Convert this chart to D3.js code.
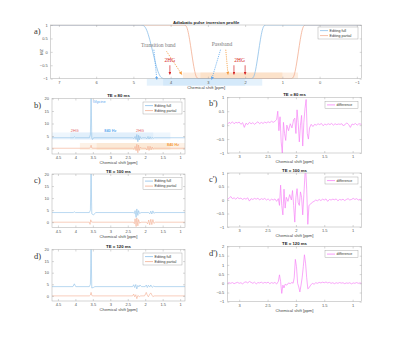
<!DOCTYPE html>
<html>
<head>
<meta charset="utf-8">
<script src="https://cdn.jsdelivr.net/npm/d3@7"></script>
<style>
  body { margin: 0; background: #fff; }
  svg { display: block; font-family: Arial, "Liberation Sans", sans-serif; }
</style>
</head>
<body>
<svg id="fig" width="400" height="339"></svg>
<script>
// ---- data ----
const profileTicksX = [7, 6, 5, 4, 3, 2, 1, 0, -1];
const profileTicksY = [-1, -0.5, 0, 0.5, 1];
const specTicksX = [4.5, 4, 3.5, 3, 2.5, 2, 1.5, 1];
const specTicksY = [0, 5, 10, 15, 20];
const diffTicksX = [3, 2.5, 2, 1.5, 1];
const diffTicksY = [-1, -0.5, 0, 0.5, 1];
const diffTicksY120 = [-1, -0.5, 0, 0.5, 1, 1.5, 2];
const seriesNames = ['Editing full', 'Editing partial'];

// Mz inversion profile [ppm, Mz]
const profileFull = [[7.22,1],[4.8,1],[4.72,0.97],[4.64,0.8],[4.56,0.45],[4.48,0],[4.4,-0.45],[4.32,-0.8],[4.24,-0.97],[4.16,-1],
  [1.84,-1],[1.79,-0.97],[1.74,-0.8],[1.69,-0.45],[1.64,0],[1.59,0.45],[1.54,0.8],[1.49,0.97],[1.43,1],[-1.13,1]];
const profilePartial = [[7.22,1],[3.64,1],[3.59,0.97],[3.54,0.8],[3.49,0.45],[3.44,0],[3.39,-0.45],[3.34,-0.8],[3.29,-0.97],[3.23,-1],
  [0.77,-1],[0.72,-0.97],[0.67,-0.8],[0.62,-0.45],[0.57,0],[0.52,0.45],[0.47,0.8],[0.42,0.97],[0.37,1],[-1.13,1]];

// spectra [ppm, signal]
const full80 = [[4.67,4.3],[4.06,4.3],[4.03,4.7],[4.0,4.3],[3.6,4.3],[3.57,5.5],[3.55,21],[3.53,4.2],[3.51,3.6],[3.48,4.3],
  [2.36,4.3],[2.32,4.0],[2.29,4.8],[2.26,3.6],[2.24,5.6],[2.21,2.7],[2.19,5.3],[2.17,3.4],[2.15,4.8],[2.12,4.0],[2.09,4.3],
  [1.98,4.3],[1.95,3.9],[1.92,4.8],[1.89,3.8],[1.86,4.7],[1.83,4.0],[1.8,4.5],[1.77,4.1],[1.74,4.3],[0.86,4.3]];
const part80 = [[4.67,0.1],[3.6,0.1],[3.57,0.4],[3.55,1.3],[3.53,0.2],[3.5,0.1],
  [2.36,0.1],[2.32,-0.3],[2.29,0.8],[2.26,-0.9],[2.24,1.7],[2.21,-1.7],[2.19,1.4],[2.17,-0.8],[2.14,0.6],[2.11,0.1],
  [1.98,0.1],[1.95,-0.6],[1.92,0.9],[1.89,-0.8],[1.86,0.9],[1.83,-0.5],[1.8,0.6],[1.77,-0.2],[1.74,0.1],[0.86,0.1]];
const full100 = [[4.67,4.0],[4.06,4.0],[4.03,4.3],[4.0,4.0],[3.6,4.0],[3.57,5.0],[3.55,21],[3.53,3.5],[3.48,3.0],[3.42,4.0],
  [2.34,4.0],[2.31,3.6],[2.29,4.8],[2.26,2.0],[2.24,5.5],[2.21,2.8],[2.19,4.8],[2.16,3.6],[2.12,4.0],
  [1.9,4.0],[1.87,3.5],[1.84,4.6],[1.81,3.4],[1.78,4.7],[1.75,3.7],[1.72,4.0],[0.86,4.0]];
const part100 = [[4.67,0],[3.6,0],[3.58,-0.9],[3.56,1.0],[3.54,0.1],[3.5,0],
  [2.34,0],[2.31,-0.6],[2.29,1.4],[2.26,-1.8],[2.24,1.8],[2.21,-1.5],[2.19,1.1],[2.16,-0.4],[2.12,0],
  [1.96,0],[1.93,-0.7],[1.9,0.9],[1.87,-1.1],[1.84,1.2],[1.81,-1.0],[1.78,1.1],[1.75,-0.5],[1.71,0],[0.86,0]];
const full120 = [[4.67,4.0],[4.07,4.0],[4.03,5.2],[3.99,4.0],[3.6,4.0],[3.57,5.0],[3.55,20.5],[3.53,3.4],[3.49,3.6],[3.44,4.0],
  [2.36,4.0],[2.33,4.8],[2.3,3.6],[2.27,4.9],[2.24,3.0],[2.21,4.5],[2.18,3.9],[2.15,4.7],[2.11,4.0],
  [2.0,4.0],[1.97,4.7],[1.94,3.6],[1.91,4.6],[1.87,3.8],[1.84,4.7],[1.8,3.7],[1.76,4.2],[1.72,4.0],[0.86,4.0]];
const part120 = [[4.67,0],[3.6,0],[3.57,0.4],[3.55,1.5],[3.53,0.2],[3.5,0],
  [2.36,0],[2.33,0.8],[2.3,-0.4],[2.27,0.5],[2.24,-1.2],[2.21,0.2],[2.17,-0.3],[2.13,0],
  [2.02,0],[1.99,0.8],[1.97,1.5],[1.94,0.3],[1.91,-0.4],[1.88,0.5],[1.84,1.3],[1.81,0.4],[1.78,-0.3],[1.74,0],[0.86,0]];

// difference spectra [ppm, full - partial]
const diff80 = [[3.21,0.02],[3.18,0.1],[3.15,0.06],[3.12,0.12],[3.09,0.05],[3.06,0.1],[3.03,0.08],[3.0,0.11],[2.97,0.03],[2.94,0.09],
  [2.91,-0.08],[2.88,0.07],[2.85,0.02],[2.82,0.1],[2.79,0.05],[2.76,0.09],[2.73,0.03],[2.7,0.08],[2.67,0.12],[2.64,0.05],
  [2.61,0.1],[2.58,0.06],[2.55,0.11],[2.52,0.08],[2.49,0.12],[2.46,0.09],[2.43,0.14],[2.4,0.1],[2.37,0.14],[2.34,0.2],
  [2.32,0.5],[2.3,-0.2],[2.28,0.3],[2.26,-0.6],[2.24,-1.0],[2.22,0.1],[2.2,-0.3],[2.18,-0.55],[2.16,0.0],[2.13,-0.2],
  [2.1,0.05],[2.07,-0.1],[2.04,0.2],[2.02,0.25],[2.0,-0.3],[1.98,0.55],[1.96,0.1],[1.94,-0.6],[1.92,0.0],[1.9,0.35],
  [1.88,-0.75],[1.86,0.1],[1.84,0.6],[1.82,0.92],[1.8,-0.3],[1.78,-0.5],[1.76,-0.1],[1.73,0.03],[1.7,-0.05],[1.67,0.03],
  [1.64,0.0],[1.61,0.05],[1.58,0.02],[1.55,0.06],[1.52,-0.02],[1.49,0.04],[1.46,0.01],[1.43,0.05],[1.4,0.02],[1.37,0.06],
  [1.34,0.0],[1.31,0.05],[1.28,0.02],[1.25,0.04],[1.22,0.03],[1.19,0.05],[1.16,-0.03],[1.13,0.04],[1.1,0.08],[1.07,0.02],
  [1.04,-0.08],[1.01,0.04],[0.98,0.02],[0.95,0.06],[0.92,0.0],[0.89,0.05],[0.84,0.03]];
const diff100 = [[3.21,0.02],[3.18,0.06],[3.15,0.13],[3.12,0.05],[3.09,0.08],[3.06,0.03],[3.03,0.09],[3.0,0.05],[2.97,0.07],[2.94,0.02],
  [2.91,0.06],[2.88,0.03],[2.85,0.08],[2.82,-0.04],[2.79,0.05],[2.76,0.02],[2.73,0.06],[2.7,0.03],[2.67,0.07],[2.64,0.0],
  [2.61,0.05],[2.58,0.02],[2.55,0.06],[2.52,0.0],[2.49,0.04],[2.46,-0.02],[2.43,0.03],[2.4,0.0],[2.37,0.04],[2.34,-0.05],
  [2.31,0.05],[2.29,-0.2],[2.27,0.55],[2.25,-0.2],[2.23,-0.55],[2.21,0.4],[2.19,-0.3],[2.17,0.1],[2.14,-0.05],[2.11,0.2],
  [2.08,0.0],[2.06,0.35],[2.04,-0.2],[2.02,-0.82],[2.0,0.1],[1.98,0.42],[1.96,-0.1],[1.94,-0.2],[1.92,0.3],[1.9,0.1],
  [1.88,-0.55],[1.86,0.2],[1.83,1.3],[1.81,0.4],[1.79,-0.9],[1.77,-0.2],[1.74,-0.15],[1.71,-0.08],[1.68,-0.05],[1.65,0.0],
  [1.62,-0.03],[1.59,0.02],[1.56,-0.02],[1.53,0.03],[1.5,0.0],[1.47,0.04],[1.44,-0.05],[1.41,0.02],[1.38,0.0],[1.35,0.03],
  [1.32,0.01],[1.29,0.04],[1.26,-0.03],[1.23,0.02],[1.2,0.0],[1.17,0.03],[1.14,-0.02],[1.11,0.02],[1.08,0.05],[1.05,0.0],
  [1.02,0.02],[0.99,0.06],[0.96,0.02],[0.93,0.05],[0.9,0.0],[0.87,0.03],[0.84,0.01]];
const diff120 = [[3.21,0.0],[3.18,0.03],[3.15,0.0],[3.12,0.04],[3.09,-0.02],[3.06,0.02],[3.03,0.05],[3.0,0.0],[2.97,0.03],[2.94,-0.03],
  [2.91,0.05],[2.88,0.08],[2.85,0.02],[2.82,0.1],[2.79,0.05],[2.76,0.0],[2.73,0.06],[2.7,-0.03],[2.67,0.04],[2.64,0.02],
  [2.61,0.06],[2.58,0.0],[2.55,0.05],[2.52,0.02],[2.49,0.06],[2.46,-0.02],[2.43,0.04],[2.4,0.0],[2.37,0.05],[2.34,-0.04],
  [2.31,0.1],[2.29,0.46],[2.27,0.1],[2.25,-0.55],[2.23,-0.1],[2.21,-0.25],[2.19,-0.05],[2.16,-0.1],[2.13,0.02],[2.1,-0.02],
  [2.07,0.05],[2.05,0.0],[2.03,0.3],[2.01,1.3],[1.99,0.9],[1.97,0.0],[1.95,-0.2],[1.93,-0.47],[1.91,-0.1],[1.89,0.3],
  [1.87,0.9],[1.85,1.55],[1.83,1.1],[1.81,0.3],[1.79,-0.3],[1.77,-0.25],[1.74,-0.1],[1.71,0.0],[1.68,-0.05],[1.65,0.03],
  [1.62,0.0],[1.59,0.05],[1.56,0.02],[1.53,0.06],[1.5,0.03],[1.47,0.07],[1.44,0.02],[1.41,0.05],[1.38,0.0],[1.35,0.03],
  [1.32,-0.02],[1.29,0.03],[1.26,0.0],[1.23,0.04],[1.2,0.01],[1.17,0.03],[1.14,-0.02],[1.11,0.02],[1.08,0.0],[1.05,0.03],
  [1.02,-0.03],[0.99,0.02],[0.96,0.0],[0.93,0.04],[0.9,0.0],[0.87,0.02],[0.84,0.0]];

// shaded bands [ppm from, ppm to, value low, value high]
const bandsProfileFull = [[4.64,1.54,-1.26,-1.0],[4.2,2.0,-1.26,-1.0]];
const bandsProfilePartial = [[3.67,0.58,-1.0,-0.77],[3.2,1.0,-1.0,-0.77]];
const bandsSpecFull = [[4.67,1.28,3.6,6.4],[4.15,1.77,3.6,6.4]];
const bandsSpecPartial = [[3.87,0.86,-0.55,2.2],[3.39,1.28,-0.55,2.2]];
const twoHG = [4.02, 2.3, 2.0];

// ---- drawing ----
const BLUE = '#8cbfe8', ORANGE = '#f3ad90', MAGENTA = '#f782f7';
const svg = d3.select('#fig');
let clipCount = 0;

function makePanel(c) {
  const x = d3.scaleLinear().domain(c.xDomain).range([c.left, c.right]);
  const y = d3.scaleLinear().domain(c.yDomain).range([c.bottom, c.top]);
  const g = svg.append('g');
  const id = 'clip' + (clipCount++);
  svg.append('clipPath').attr('id', id).append('rect')
    .attr('x', c.left).attr('y', c.top).attr('width', c.right - c.left).attr('height', c.bottom - c.top);

  const under = g.append('g');
  const plot = g.append('g').attr('clip-path', `url(#${id})`);
  const axes = g.append('g');
  const fmt = d3.format('~g');

  const styleAxis = (sel) => {
    sel.select('.domain').remove();
    sel.selectAll('line').attr('stroke', '#999').attr('stroke-width', 0.4);
    sel.selectAll('text').attr('font-size', 4).attr('fill', '#555');
  };
  axes.append('g').attr('transform', `translate(0,${c.bottom})`)
    .call(d3.axisBottom(x).tickValues(c.xTicks).tickSize(-2).tickPadding(2.5).tickFormat(fmt)).call(styleAxis);
  axes.append('g').attr('transform', `translate(0,${c.top})`)
    .call(d3.axisTop(x).tickValues(c.xTicks).tickSize(-2).tickFormat('')).call(styleAxis);
  axes.append('g').attr('transform', `translate(${c.left},0)`)
    .call(d3.axisLeft(y).tickValues(c.yTicks).tickSize(-2).tickPadding(3).tickFormat(fmt)).call(styleAxis);
  axes.append('g').attr('transform', `translate(${c.right},0)`)
    .call(d3.axisRight(y).tickValues(c.yTicks).tickSize(-2).tickFormat('')).call(styleAxis);
  axes.append('rect')
    .attr('x', c.left).attr('y', c.top).attr('width', c.right - c.left).attr('height', c.bottom - c.top)
    .attr('fill', 'none').attr('stroke', '#aaa').attr('stroke-width', 0.5);

  g.append('text').attr('x', (c.left + c.right) / 2).attr('y', c.top - 1.5)
    .attr('text-anchor', 'middle').attr('font-size', 4.3).attr('font-weight', 'bold').attr('fill', '#222')
    .text(c.title);
  g.append('text').attr('x', (c.left + c.right) / 2).attr('y', c.bottom + 10)
    .attr('text-anchor', 'middle').attr('font-size', 4.2).attr('fill', '#444')
    .text('Chemical shift [ppm]');
  g.append('text').attr('x', c.labelX).attr('y', c.top + 9)
    .attr('font-family', '"Liberation Serif", "DejaVu Serif", serif').attr('font-size', 8.5).attr('fill', '#333')
    .text(c.label);
  return { x, y, g, under, plot, axes, c };
}

function drawLine(p, data, color, width) {
  p.plot.append('path').datum(data)
    .attr('d', d3.line().x(d => p.x(d[0])).y(d => p.y(d[1])))
    .attr('fill', 'none').attr('stroke', color).attr('stroke-width', width || 0.7)
    .attr('stroke-linejoin', 'round');
}

function drawCurve(p, data, color) {
  p.plot.append('path').datum(data)
    .attr('d', d3.line().curve(d3.curveMonotoneX).x(d => p.x(d[0])).y(d => p.y(d[1])))
    .attr('fill', 'none').attr('stroke', color).attr('stroke-width', 0.8);
}

function drawBands(layer, p, bands, color, ops) {
  layer.selectAll(null).data(bands).join('rect')
    .attr('x', d => p.x(d[0])).attr('width', d => p.x(d[1]) - p.x(d[0]))
    .attr('y', d => p.y(d[3])).attr('height', d => p.y(d[2]) - p.y(d[3]))
    .attr('fill', color).attr('opacity', (d, i) => ops[i]);
}

function legend(p, names, colors, x0, y0, w) {
  const h = names.length * 5 + 2;
  p.axes.append('rect').attr('x', x0).attr('y', y0).attr('width', w).attr('height', h)
    .attr('fill', '#fff').attr('stroke', '#999').attr('stroke-width', 0.4);
  names.forEach((n, i) => {
    const yy = y0 + 3.6 + i * 5;
    p.axes.append('line').attr('x1', x0 + 2).attr('x2', x0 + 10).attr('y1', yy).attr('y2', yy)
      .attr('stroke', colors[i]).attr('stroke-width', 0.8);
    p.axes.append('text').attr('x', x0 + 11.5).attr('y', yy + 1.3)
      .attr('font-size', 3.6).attr('fill', '#333').text(n);
  });
}

// defs for arrow heads
const defs = svg.append('defs');
[['arBlue', '#5ea8ef'], ['arOrange', '#f59a3a'], ['arRed', '#d62728']].forEach(([id, col]) => {
  defs.append('marker').attr('id', id).attr('viewBox', '0 0 10 10').attr('refX', 9).attr('refY', 5)
    .attr('markerWidth', 4).attr('markerHeight', 4).attr('orient', 'auto-start-reverse')
    .append('path').attr('d', 'M0,0L10,5L0,10z').attr('fill', col);
});

// ---- panel a ----
const pa = makePanel({
  left: 50.7, right: 361.7, top: 25, bottom: 78.7,
  xDomain: [7.22, -1.13], yDomain: [-1, 1], xTicks: profileTicksX, yTicks: profileTicksY,
  title: 'Adiabatic pulse inversion profile', label: 'a)', labelX: 34,
});
drawBands(pa.under, pa, bandsProfileFull, '#b5d9f7', [0.35, 0.35]);
drawBands(pa.under, pa, bandsProfilePartial, '#f9cfa8', [0.35, 0.4]);
drawCurve(pa, profilePartial, ORANGE);
drawCurve(pa, profileFull, BLUE);
pa.g.append('text').attr('transform', `translate(43,${pa.y(0)}) rotate(-90)`)
  .attr('text-anchor', 'middle').attr('font-size', 4).attr('fill', '#444').text('MZ');
legend(pa, seriesNames, [BLUE, ORANGE], 318, 27, 40);

const serif = '"Liberation Serif", "DejaVu Serif", serif';
const ann = pa.g.append('g');
ann.append('text').attr('x', pa.x(4.33)).attr('y', pa.y(0.17)).attr('text-anchor', 'middle')
  .attr('font-family', serif).attr('font-size', 5.5).attr('fill', '#777').text('Transition band');
ann.append('text').attr('x', pa.x(2.62)).attr('y', pa.y(0.2)).attr('text-anchor', 'middle')
  .attr('font-family', serif).attr('font-size', 5.5).attr('fill', '#777').text('Passband');
const dashed = [
  [[4.45, 0.08], [4.37, -1.03], '#5ea8ef', 'arBlue'],
  [[4.11, 0.02], [3.7, -0.84], '#f59a3a', 'arOrange'],
  [[2.66, 0.08], [2.9, -1.03], '#5ea8ef', 'arBlue'],
  [[2.52, 0.08], [2.46, -0.84], '#f59a3a', 'arOrange'],
];
dashed.forEach(([s, e, col, m]) => {
  ann.append('line').attr('x1', pa.x(s[0])).attr('y1', pa.y(s[1])).attr('x2', pa.x(e[0])).attr('y2', pa.y(e[1]))
    .attr('stroke', col).attr('stroke-width', 0.8).attr('stroke-dasharray', '1.2 1')
    .attr('marker-end', `url(#${m})`);
});
ann.append('text').attr('x', pa.x(twoHG[0])).attr('y', pa.y(-0.38)).attr('text-anchor', 'middle')
  .attr('font-family', serif).attr('font-size', 5.5).attr('fill', '#d62728').text('2HG');
ann.append('text').attr('x', pa.x(2.15)).attr('y', pa.y(-0.38)).attr('text-anchor', 'middle')
  .attr('font-family', serif).attr('font-size', 5.5).attr('fill', '#d62728').text('2HG');
twoHG.forEach(v => {
  ann.append('line').attr('x1', pa.x(v)).attr('x2', pa.x(v)).attr('y1', pa.y(-0.5)).attr('y2', pa.y(-0.84))
    .attr('stroke', '#d62728').attr('stroke-width', 0.7).attr('marker-end', 'url(#arRed)');
});

// ---- spectra panels ----
const specDefs = [
  { top: 98.5, bottom: 154, title: 'TE = 80 ms', label: 'b)', full: full80, part: part80 },
  { top: 174, bottom: 227.5, title: 'TE = 100 ms', label: 'c)', full: full100, part: part100 },
  { top: 249.5, bottom: 301, title: 'TE = 120 ms', label: 'd)', full: full120, part: part120 },
];
const specPanels = specDefs.map(s => {
  const p = makePanel({
    left: 52, right: 185, top: s.top, bottom: s.bottom,
    xDomain: [4.67, 0.86], yDomain: [-2.2, 20], xTicks: specTicksX, yTicks: specTicksY,
    title: s.title, label: s.label, labelX: 34,
  });
  return { p, s };
});
// bands only on TE = 80 ms
const pb = specPanels[0].p;
drawBands(pb.plot, pb, bandsSpecFull, '#bcdcf7', [0.25, 0.25]);
drawBands(pb.plot, pb, bandsSpecPartial, '#fad3b0', [0.3, 0.3]);
specPanels.forEach(({ p, s }) => {
  drawLine(p, s.part, ORANGE, 0.6);
  drawLine(p, s.full, BLUE, 0.6);
  legend(p, seriesNames, [BLUE, ORANGE], 143, p.c.top + 3.5, 39);
});
const tb = pb.g.append('g').attr('font-size', 3.8);
tb.append('text').attr('x', pb.x(3.5)).attr('y', pb.y(18.3)).attr('fill', '#5ea8ef').text('Glycine');
tb.append('text').attr('x', pb.x(4.02)).attr('y', pb.y(6.8)).attr('text-anchor', 'middle').attr('fill', '#e06060').text('2HG');
tb.append('text').attr('x', pb.x(2.15)).attr('y', pb.y(6.8)).attr('text-anchor', 'middle').attr('fill', '#e06060').text('2HG');
tb.append('text').attr('x', pb.x(3.0)).attr('y', pb.y(6.8)).attr('text-anchor', 'middle').attr('fill', '#5ea8ef')
  .attr('font-weight', 'bold').text('840 Hz');
tb.append('text').attr('x', pb.x(1.2)).attr('y', pb.y(1.2)).attr('text-anchor', 'middle').attr('fill', '#f59a3a')
  .attr('font-weight', 'bold').text('840 Hz');

// ---- difference panels ----
const diffDefs = [
  { top: 97.3, bottom: 153, title: 'TE = 80 ms', label: "b')", data: diff80, yDomain: [-1, 1], yTicks: diffTicksY },
  { top: 173, bottom: 227, title: 'TE = 100 ms', label: "c')", data: diff100, yDomain: [-1, 1], yTicks: diffTicksY },
  { top: 246.5, bottom: 301.7, title: 'TE = 120 ms', label: "d')", data: diff120, yDomain: [-1, 2], yTicks: diffTicksY120 },
];
diffDefs.forEach(s => {
  const p = makePanel({
    left: 227.3, right: 361.7, top: s.top, bottom: s.bottom,
    xDomain: [3.21, 0.84], yDomain: s.yDomain, xTicks: diffTicksX, yTicks: s.yTicks,
    title: s.title, label: s.label, labelX: 209,
  });
  drawLine(p, s.data, MAGENTA, 0.7);
  legend(p, ['difference'], [MAGENTA], 325, p.c.top + 4, 33);
});
</script>
</body>
</html>
